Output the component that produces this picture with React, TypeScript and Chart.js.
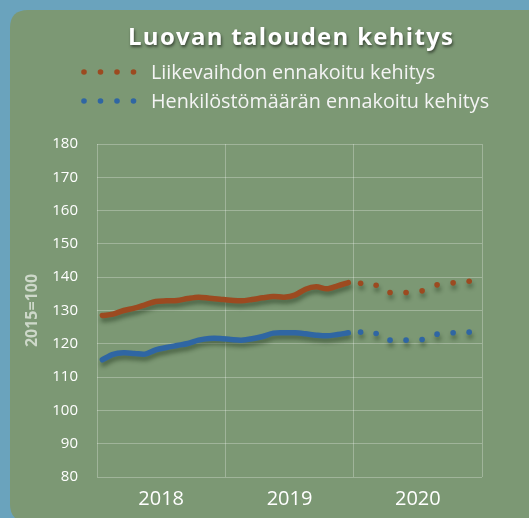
import { useEffect, useRef } from 'react';
import { Chart, registerables } from 'chart.js';

Chart.register(...registerables);

const TITLE = 'Luovan talouden kehitys';
const SERIES_NAMES = ['Liikevaihdon ennakoitu kehitys', 'Henkilöstömäärän ennakoitu kehitys'];
const YEARS = ['2018', '2019', '2020'];
const Y_AXIS_TITLE = '2015=100';
const Y_MIN = 80;
const Y_MAX = 180;
const Y_STEP = 10;

const MONTHS = [
  '2018-01', '2018-02', '2018-03', '2018-04', '2018-05', '2018-06',
  '2018-07', '2018-08', '2018-09', '2018-10', '2018-11', '2018-12',
  '2019-01', '2019-02', '2019-03', '2019-04', '2019-05', '2019-06',
  '2019-07', '2019-08', '2019-09', '2019-10', '2019-11', '2019-12',
];
const TURNOVER = [
  128.5, 128.9, 130.0, 130.7, 131.7, 132.7, 132.9, 133.0, 133.6, 134.0, 133.7, 133.4,
  133.1, 132.9, 133.3, 133.8, 134.2, 134.0, 134.6, 136.4, 137.1, 136.5, 137.4, 138.4,
];
const STAFF = [
  115.2, 116.8, 117.3, 117.1, 116.9, 118.2, 118.9, 119.5, 120.1, 121.1, 121.6, 121.6,
  121.3, 121.1, 121.5, 122.2, 123.2, 123.3, 123.3, 123.0, 122.6, 122.4, 122.8, 123.3,
];
// forecast positions in months from the start of 2018
const FORECAST_POS = [24.65, 26.1, 27.4, 28.9, 30.4, 31.8, 33.3, 34.8];
const TURNOVER_FORECAST = [138.2, 137.6, 135.4, 135.4, 135.9, 137.7, 138.3, 138.8];
const STAFF_FORECAST = [123.5, 123.1, 121.1, 121.1, 121.3, 122.9, 123.3, 123.5];

const ORANGE = '#9c4a20';
const BLUE = '#2f66a3';
const PANEL = '#7c9874';
const OUTER = '#6aa3bd';
const GRID = 'rgba(255,255,255,0.28)';
const FONT = '"Open Sans", "DejaVu Sans", sans-serif';

const W = 529;
const H = 518;

function roundRect(ctx: CanvasRenderingContext2D, x: number, y: number, w: number, h: number, r: number) {
  ctx.beginPath();
  ctx.moveTo(x + r, y);
  ctx.lineTo(x + w - r, y);
  ctx.quadraticCurveTo(x + w, y, x + w, y + r);
  ctx.lineTo(x + w, y + h - r);
  ctx.quadraticCurveTo(x + w, y + h, x + w - r, y + h);
  ctx.lineTo(x + r, y + h);
  ctx.quadraticCurveTo(x, y + h, x, y + h - r);
  ctx.lineTo(x, y + r);
  ctx.quadraticCurveTo(x, y, x + r, y);
  ctx.closePath();
}

const decorPlugin = {
  id: 'decor',
  beforeDraw(chart: any) {
    const ctx = chart.ctx as CanvasRenderingContext2D;
    ctx.save();
    ctx.fillStyle = OUTER;
    ctx.fillRect(0, 0, W, H);
    ctx.fillStyle = PANEL;
    roundRect(ctx, 10, 10, 540, 512, 18);
    ctx.fill();
    ctx.restore();
  },
  beforeDatasetsDraw(chart: any) {
    const ctx = chart.ctx as CanvasRenderingContext2D;
    ctx.save();
    ctx.shadowColor = 'rgba(20,40,15,0.45)';
    ctx.shadowBlur = 4;
    ctx.shadowOffsetX = 1;
    ctx.shadowOffsetY = 4;
  },
  afterDatasetsDraw(chart: any) {
    chart.ctx.restore();
  },
  afterDraw(chart: any) {
    const ctx = chart.ctx as CanvasRenderingContext2D;
    // title
    ctx.save();
    ctx.font = `bold 24px ${FONT}`;
    ctx.textBaseline = 'alphabetic';
    ctx.textAlign = 'left';
    const w0 = ctx.measureText(TITLE).width;
    const spacing = Math.max(0, (325 - w0) / (TITLE.length - 1));
    (ctx as any).letterSpacing = `${spacing}px`;
    ctx.shadowColor = 'rgba(0,0,0,0.55)';
    ctx.shadowBlur = 3;
    ctx.shadowOffsetX = 1;
    ctx.shadowOffsetY = 2;
    ctx.fillStyle = '#ffffff';
    ctx.fillText(TITLE, 128, 45);
    ctx.restore();

    // legend
    ctx.save();
    const colors = [ORANGE, BLUE];
    const rows = [72, 101];
    const dotX = [84, 100.5, 117, 133.5];
    ctx.font = `19.8px ${FONT}`;
    ctx.textBaseline = 'middle';
    ctx.textAlign = 'left';
    rows.forEach((y, i) => {
      ctx.fillStyle = colors[i];
      dotX.forEach((x) => {
        ctx.beginPath();
        ctx.arc(x, y, 2.8, 0, Math.PI * 2);
        ctx.fill();
      });
      ctx.fillStyle = '#f4f4f4';
      ctx.fillText(SERIES_NAMES[i], 151, y + 1);
    });
    ctx.restore();
  },
};

export default function App() {
  const ref = useRef<HTMLCanvasElement | null>(null);

  useEffect(() => {
    if (!ref.current) return;
    const actualX = MONTHS.map((_, i) => i + 0.5);
    const chart = new Chart(ref.current, {
      type: 'line',
      data: {
        datasets: [
          {
            label: SERIES_NAMES[0],
            data: actualX.map((x, i) => ({ x, y: TURNOVER[i] })),
            borderColor: ORANGE,
            borderWidth: 5.5,
            borderCapStyle: 'round',
            borderJoinStyle: 'round',
            pointRadius: 0,
            tension: 0.3,
          },
          {
            label: SERIES_NAMES[1],
            data: actualX.map((x, i) => ({ x, y: STAFF[i] })),
            borderColor: BLUE,
            borderWidth: 5.5,
            borderCapStyle: 'round',
            borderJoinStyle: 'round',
            pointRadius: 0,
            tension: 0.3,
          },
          {
            label: SERIES_NAMES[0] + ' (ennuste)',
            data: FORECAST_POS.map((x, i) => ({ x, y: TURNOVER_FORECAST[i] })),
            showLine: false,
            pointRadius: 2.8,
            pointBorderWidth: 0,
            pointBackgroundColor: ORANGE,
            borderColor: ORANGE,
          },
          {
            label: SERIES_NAMES[1] + ' (ennuste)',
            data: FORECAST_POS.map((x, i) => ({ x, y: STAFF_FORECAST[i] })),
            showLine: false,
            pointRadius: 2.8,
            pointBorderWidth: 0,
            pointBackgroundColor: BLUE,
            borderColor: BLUE,
          },
        ],
      },
      options: {
        animation: false,
        responsive: false,
        maintainAspectRatio: false,
        layout: { padding: { top: 144, right: 47, bottom: 0, left: 0 } },
        plugins: {
          legend: { display: false },
          title: { display: false },
          tooltip: { enabled: false },
        },
        scales: {
          x: {
            type: 'linear',
            min: 0,
            max: YEARS.length * 12,
            afterBuildTicks: (scale: any) => {
              const t: any[] = [];
              for (let v = 0; v <= YEARS.length * 12; v += 6) t.push({ value: v });
              scale.ticks = t;
            },
            afterFit: (scale: any) => {
              scale.height = 41;
            },
            grid: {
              color: (c: any) => (c.tick && c.tick.value % 12 === 0 ? GRID : 'rgba(0,0,0,0)'),
              drawTicks: false,
              lineWidth: 1,
            },
            border: { display: false },
            ticks: {
              autoSkip: false,
              maxRotation: 0,
              padding: 10,
              color: '#ffffff',
              font: { family: FONT, size: 20 },
              callback: (v: any) => {
                const n = Number(v);
                return n % 12 === 6 ? YEARS[Math.floor(n / 12)] : '';
              },
            },
          },
          y: {
            min: Y_MIN,
            max: Y_MAX,
            afterFit: (scale: any) => {
              scale.width = 97;
            },
            grid: { color: GRID, drawTicks: false, lineWidth: 1 },
            border: { display: false },
            ticks: {
              stepSize: Y_STEP,
              padding: 19,
              color: '#ffffff',
              font: { family: FONT, size: 15 },
            },
            title: {
              display: true,
              text: Y_AXIS_TITLE,
              color: 'rgba(225,232,222,0.8)',
              font: { family: FONT, size: 16, weight: 'bold' },
              padding: { top: 23, bottom: 0 },
            },
          },
        },
      },
      plugins: [decorPlugin],
    } as any);
    return () => chart.destroy();
  }, []);

  return (
    <div style={{ position: 'fixed', left: 0, top: 0, width: W, height: H, overflow: 'hidden' }}>
      <canvas ref={ref} width={W} height={H} style={{ display: 'block', width: W, height: H }} />
    </div>
  );
}
